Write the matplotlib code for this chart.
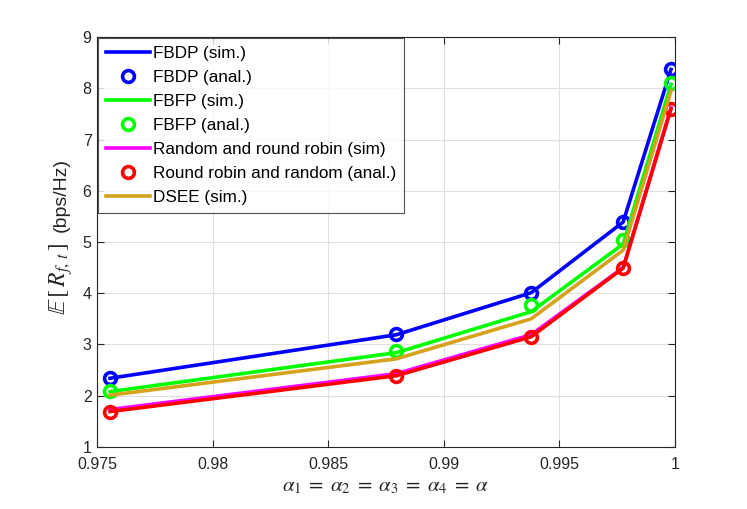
import numpy as np
import matplotlib
matplotlib.use("Agg")
import matplotlib.pyplot as plt

plt.rcParams["font.family"] = ["Liberation Sans", "DejaVu Sans"]
plt.rcParams["mathtext.fontset"] = "stix"

# data
alpha = [0.97556, 0.98795, 0.99378, 0.99776, 0.99983]
fbdp_sim = [2.34, 3.19, 4.01, 5.39, 8.37]
fbdp_anal = [2.34, 3.20, 4.01, 5.39, 8.37]
fbfp_sim = [2.08, 2.84, 3.64, 4.96, 8.08]
fbfp_anal = [2.10, 2.87, 3.77, 5.04, 8.10]
rr_sim = [1.73, 2.43, 3.19, 4.50, 7.62]
rr_anal = [1.69, 2.39, 3.15, 4.49, 7.60]
dsee_sim = [2.01, 2.72, 3.50, 4.84, 7.95]

xticks = [0.975, 0.98, 0.985, 0.99, 0.995, 1.0]
xticklabels = ["0.975", "0.98", "0.985", "0.99", "0.995", "1"]

fig = plt.figure(figsize=(7.47, 5.09), dpi=100)
ax = fig.add_axes([0.13, 0.122, 0.7735, 0.805])

lw = 2.6
mk = dict(marker="o", linestyle="none", markersize=8.5, markerfacecolor="none",
          markeredgewidth=2.6)
gold = "#D6A21C"

ax.plot(alpha, fbdp_sim, color="#0000ff", lw=lw, label="FBDP (sim.)")
ax.plot(alpha, fbdp_anal, color="#0000ff", label="FBDP (anal.)", **mk)
ax.plot(alpha, fbfp_sim, color="#00ff00", lw=lw, label="FBFP (sim.)")
ax.plot(alpha, fbfp_anal, color="#00ff00", label="FBFP (anal.)", **mk)
ax.plot(alpha, rr_sim, color="#ff00ff", lw=lw, label="Random and round robin (sim)")
ax.plot(alpha, rr_anal, color="#ff0000", lw=lw)
ax.plot(alpha, rr_anal, color="#ff0000", label="Round robin and random (anal.)", **mk)
ax.plot(alpha, dsee_sim, color=gold, lw=lw, label="DSEE (sim.)")

ax.set_xlim(0.975, 1.0)
ax.set_ylim(1, 9)
ax.set_xticks(xticks)
ax.set_xticklabels(xticklabels)
ax.set_yticks(range(1, 10))
ax.tick_params(direction="in", top=True, right=True, labelsize=11.5, colors="#262626",
               length=5, width=0.8)
ax.tick_params(axis="x", pad=7)
ax.tick_params(axis="y", pad=4)
for s in ax.spines.values():
    s.set_color("#262626")
    s.set_linewidth(0.8)
ax.grid(True, color="#dfdfdf", linewidth=0.8)
ax.set_axisbelow(True)

ax.set_xlabel(r"$\alpha_1 \;=\; \alpha_2 \;=\; \alpha_3 \;=\; \alpha_4 \;=\; \alpha$",
              fontsize=15, labelpad=4, color="#262626")
# y label in two parts: large math part and smaller unit part, sharing a baseline
ax.text(-0.055, 0.41, r"$\mathbb{E}\,[\,R_{f,\,t}\,]$", transform=ax.transAxes, rotation=90,
        rotation_mode="anchor", ha="center", va="baseline", fontsize=17, color="#262626")
ax.text(-0.055, 0.615, "(bps/Hz)", transform=ax.transAxes, rotation=90,
        rotation_mode="anchor", ha="center", va="baseline", fontsize=14, color="#262626")

leg = ax.legend(loc="upper left", fontsize=12.3, frameon=True, fancybox=False,
                borderaxespad=0.05, handlelength=2.6, handletextpad=0.15,
                labelspacing=0.53, borderpad=0.45)
leg.get_frame().set_edgecolor("#262626")
leg.get_frame().set_linewidth(0.8)

fig.savefig("out.png", dpi=100)
